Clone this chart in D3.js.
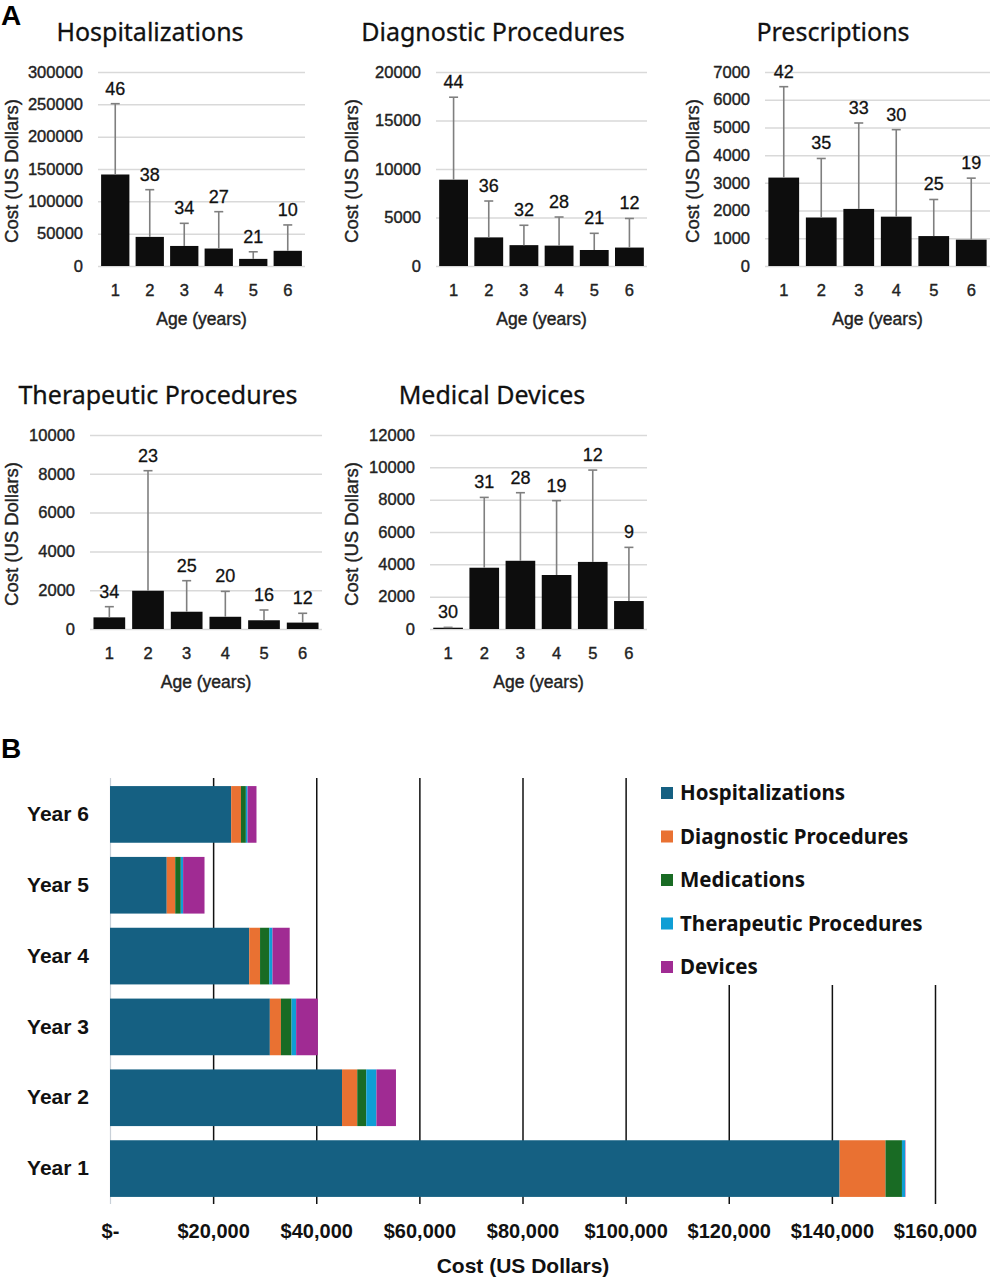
<!DOCTYPE html>
<html>
<head>
<meta charset="utf-8">
<script src="https://cdn.jsdelivr.net/npm/d3@7"></script>
<style>
  body { margin: 0; background: #fff; }
  svg { display: block; }
</style>
</head>
<body>
<svg id="chart" width="992" height="1280"></svg>
<script>
// ---------- data ----------
const ages = [1, 2, 3, 4, 5, 6];

// mean cost per age, and mean + SD (top of error bar), n per bar
const hospMean = [141500, 45000, 31000, 27000, 11000, 23500];
const hospTop  = [251000, 118000, 66000, 84000, 22000, 63500];
const hospN    = [46, 38, 34, 27, 21, 10];

const diagMean = [8900, 2950, 2150, 2100, 1650, 1900];
const diagTop  = [17400, 6700, 4200, 5050, 3370, 4900];
const diagN    = [44, 36, 32, 28, 21, 12];

const rxMean = [3190, 1750, 2060, 1780, 1080, 950];
const rxTop  = [6470, 3880, 5160, 4920, 2400, 3170];
const rxN    = [42, 35, 33, 30, 25, 19];

const therMean = [600, 1970, 890, 630, 450, 330];
const therTop  = [1150, 8160, 2490, 1940, 980, 810];
const therN    = [34, 23, 25, 20, 16, 12];

const devMean = [80, 3790, 4220, 3340, 4150, 1730];
const devTop  = [100, 8140, 8430, 7940, 9830, 5050];
const devN    = [30, 31, 28, 19, 12, 9];

// panel B
const years = ['Year 6', 'Year 5', 'Year 4', 'Year 3', 'Year 2', 'Year 1'];
const stackKeys = ['Hospitalizations', 'Diagnostic Procedures', 'Medications', 'Therapeutic Procedures', 'Devices'];
const stackColors = ['#156082', '#e97132', '#196b24', '#0f9ed5', '#a02b93'];
const costTicks = [0, 20000, 40000, 60000, 80000, 100000, 120000, 140000, 160000];

// ---------- setup ----------
const svg = d3.select('#chart');
const tickFont = 'Liberation Sans, Arial, sans-serif';
const titleFont = 'Noto Sans, Inter, sans-serif';

svg.append('text').attr('x', 1).attr('y', 25)
  .attr('font-family', tickFont).attr('font-weight', 700).attr('font-size', 28)
  .text('A');
svg.append('text').attr('x', 1).attr('y', 758)
  .attr('font-family', tickFont).attr('font-weight', 700).attr('font-size', 28)
  .text('B');

// slightly heavier text, like the scanned figure
function heavy(sel, w) {
  sel.attr('stroke', '#222').attr('stroke-width', w).attr('paint-order', 'stroke');
}

// layout of the five small panels
const panels = [
  { title: 'Hospitalizations', mean: hospMean, top: hospTop, n: hospN,
    x0: 98, x1: 305, yTop: 72, yBot: 266, yMax: 300000, step: 50000, titleX: 150, yTitleX: 12 },
  { title: 'Diagnostic Procedures', mean: diagMean, top: diagTop, n: diagN,
    x0: 436, x1: 647, yTop: 72, yBot: 266, yMax: 20000, step: 5000, titleX: 493, yTitleX: 352 },
  { title: 'Prescriptions', mean: rxMean, top: rxTop, n: rxN,
    x0: 765, x1: 990, yTop: 72, yBot: 266, yMax: 7000, step: 1000, titleX: 833, yTitleX: 693 },
  { title: 'Therapeutic Procedures', mean: therMean, top: therTop, n: therN,
    x0: 90, x1: 322, yTop: 435, yBot: 629, yMax: 10000, step: 2000, titleX: 158, yTitleX: 12 },
  { title: 'Medical Devices', mean: devMean, top: devTop, n: devN,
    x0: 430, x1: 647, yTop: 435, yBot: 629, yMax: 12000, step: 2000, titleX: 492, yTitleX: 352 }
];

function drawPanel(p) {
  const g = svg.append('g');
  const y = d3.scaleLinear().domain([0, p.yMax]).range([p.yBot, p.yTop]);
  const x = d3.scaleBand().domain(ages).range([p.x0, p.x1])
    .paddingInner(0.18).paddingOuter(0.09);

  // y axis + gridlines
  const yAxis = g.append('g')
    .attr('transform', `translate(${p.x0},0)`)
    .call(d3.axisLeft(y)
      .tickValues(d3.range(0, p.yMax + 1, p.step))
      .tickSize(-(p.x1 - p.x0))
      .tickPadding(15)
      .tickFormat(d3.format('d')));
  yAxis.select('.domain').remove();
  yAxis.selectAll('line').attr('stroke', '#d9d9d9').attr('stroke-width', 1.5);
  yAxis.selectAll('text')
    .attr('font-family', tickFont).attr('font-size', 16.5).attr('fill', '#222')
    .call(heavy, 0.4);

  // x axis
  const xAxis = g.append('g')
    .attr('transform', `translate(0,${p.yBot})`)
    .call(d3.axisBottom(x).tickSize(0).tickPadding(18));
  xAxis.select('.domain').remove();
  xAxis.selectAll('text')
    .attr('font-family', tickFont).attr('font-size', 16.5).attr('fill', '#222')
    .call(heavy, 0.4);

  // bars
  g.selectAll('rect.bar')
    .data(ages)
    .join('rect')
    .attr('class', 'bar')
    .attr('x', d => x(d))
    .attr('width', x.bandwidth())
    .attr('y', (d, i) => y(p.mean[i]))
    .attr('height', (d, i) => p.yBot - y(p.mean[i]))
    .attr('fill', '#0d0d0d');

  // error bars (upper only)
  const cx = d => x(d) + x.bandwidth() / 2;
  g.selectAll('line.err')
    .data(ages)
    .join('line')
    .attr('class', 'err')
    .attr('x1', cx).attr('x2', cx)
    .attr('y1', (d, i) => y(p.mean[i]))
    .attr('y2', (d, i) => y(p.top[i]))
    .attr('stroke', '#7f7f7f').attr('stroke-width', 1.6);
  g.selectAll('line.cap')
    .data(ages)
    .join('line')
    .attr('class', 'cap')
    .attr('x1', d => cx(d) - 4.5).attr('x2', d => cx(d) + 4.5)
    .attr('y1', (d, i) => y(p.top[i]))
    .attr('y2', (d, i) => y(p.top[i]))
    .attr('stroke', '#7f7f7f').attr('stroke-width', 1.6);

  // n labels
  g.selectAll('text.n')
    .data(ages)
    .join('text')
    .attr('class', 'n')
    .attr('x', cx)
    .attr('y', (d, i) => y(p.top[i]) - 9)
    .attr('text-anchor', 'middle')
    .attr('font-family', tickFont).attr('font-size', 18).attr('fill', '#111')
    .call(heavy, 0.3);

  g.selectAll('text.n').text((d, i) => p.n[i]);

  // titles
  g.append('text')
    .attr('x', p.titleX).attr('y', p.yTop - 31)
    .attr('text-anchor', 'middle')
    .attr('font-family', titleFont).attr('font-size', 25).attr('fill', '#111')
    .call(heavy, 0.3)
    .text(p.title);
  g.append('text')
    .attr('x', (p.x0 + p.x1) / 2).attr('y', p.yBot + 59)
    .attr('text-anchor', 'middle')
    .attr('font-family', tickFont).attr('font-size', 17.5).attr('fill', '#222')
    .call(heavy, 0.4)
    .text('Age (years)');
  g.append('text')
    .attr('transform', `translate(${p.yTitleX + 6},${(p.yTop + p.yBot) / 2 + 2}) rotate(-90)`)
    .attr('text-anchor', 'middle')
    .attr('font-family', tickFont).attr('font-size', 18.5).attr('fill', '#222')
    .call(heavy, 0.4)
    .text('Cost (US Dollars)');
}

panels.forEach(drawPanel);

// ---------- panel B: stacked horizontal bars ----------
const yearRows = years.map((yr, j) => {
  const i = 5 - j; // Year 6 -> index 5
  return {
    year: yr,
    'Hospitalizations': hospMean[i],
    'Diagnostic Procedures': diagMean[i],
    'Medications': rxMean[i],
    'Therapeutic Procedures': therMean[i],
    'Devices': devMean[i]
  };
});

const bx = d3.scaleLinear().domain([0, 160000]).range([110, 935]);
const by = d3.scaleBand().domain(years).range([779, 1204])
  .paddingInner(0.2).paddingOuter(0.1);
const bColor = d3.scaleOrdinal().domain(stackKeys).range(stackColors);

const gb = svg.append('g');

const costAxis = gb.append('g')
  .attr('transform', 'translate(0,1204)')
  .call(d3.axisBottom(bx)
    .tickValues(costTicks)
    .tickSize(-(1204 - 778))
    .tickPadding(20)
    .tickFormat(d => d === 0 ? '$-' : d3.format('$,')(d)));
costAxis.select('.domain').remove();
costAxis.selectAll('line').attr('stroke', '#111').attr('stroke-width', 1.5);
costAxis.selectAll('.tick').filter(d => d === 0).select('line')
  .attr('stroke', '#c8d0d8').attr('stroke-width', 1.2);
costAxis.selectAll('text')
  .attr('font-family', tickFont).attr('font-weight', 700)
  .attr('font-size', 20).attr('fill', '#111');

const stacked = d3.stack().keys(stackKeys)(yearRows);
gb.append('g')
  .selectAll('g')
  .data(stacked)
  .join('g')
  .attr('fill', d => bColor(d.key))
  .selectAll('rect')
  .data(d => d)
  .join('rect')
  .attr('x', d => bx(d[0]))
  .attr('width', d => bx(d[1]) - bx(d[0]))
  .attr('y', d => by(d.data.year))
  .attr('height', by.bandwidth());

const yearAxis = gb.append('g')
  .attr('transform', 'translate(110,0)')
  .call(d3.axisLeft(by).tickSize(0).tickPadding(21));
yearAxis.select('.domain').remove();
yearAxis.selectAll('text')
  .attr('font-family', tickFont).attr('font-weight', 700)
  .attr('font-size', 21).attr('fill', '#111');

gb.append('text')
  .attr('x', 523).attr('y', 1273)
  .attr('text-anchor', 'middle')
  .attr('font-family', tickFont).attr('font-weight', 700)
  .attr('font-size', 21).attr('fill', '#111')
  .text('Cost (US Dollars)');

// legend (white box over the gridlines)
const legend = gb.append('g');
legend.append('rect')
  .attr('x', 640).attr('y', 772).attr('width', 312).attr('height', 213)
  .attr('fill', '#fff');
const items = legend.selectAll('g.item')
  .data(stackKeys)
  .join('g')
  .attr('class', 'item')
  .attr('transform', (d, i) => `translate(661,${793 + i * 43.5})`);
items.append('rect')
  .attr('x', 0).attr('y', -6).attr('width', 12).attr('height', 12)
  .attr('fill', d => bColor(d));
items.append('text')
  .attr('x', 19).attr('y', 0).attr('dy', '0.35em')
  .attr('font-family', titleFont).attr('font-weight', 700)
  .attr('font-size', 20.5).attr('fill', '#111')
  .text(d => d);
</script>
</body>
</html>
